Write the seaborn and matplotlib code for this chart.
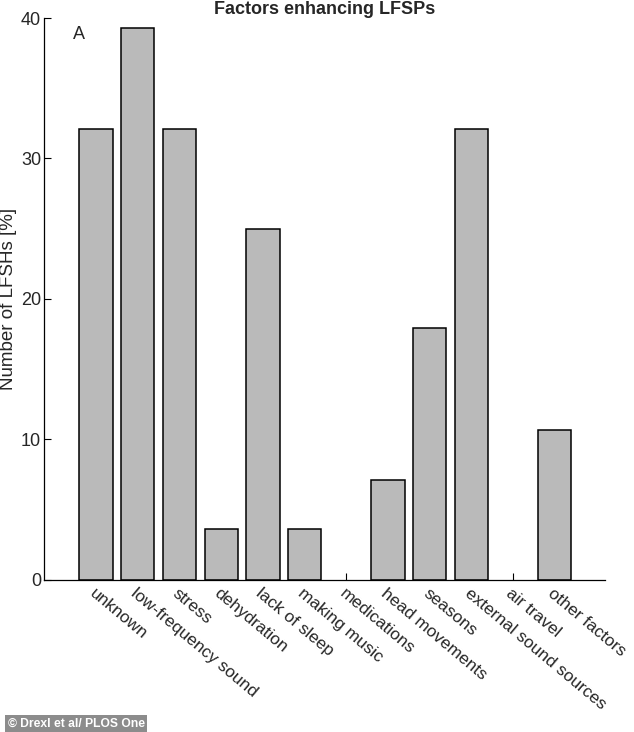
import seaborn as sns
import matplotlib.pyplot as plt
import pandas as pd

factors = ["unknown", "low-frequency sound", "stress", "dehydration",
           "lack of sleep", "making music", "medications", "head movements",
           "seasons", "external sound sources", "air travel", "other factors"]
percent = [32.1, 39.3, 32.1, 3.6, 25.0, 3.6, 0.0, 7.1, 17.9, 32.1, 0.0, 10.7]
yticks = [0, 10, 20, 30, 40]

sns.set_style("white")
plt.rcParams['font.family'] = ['Liberation Sans', 'DejaVu Sans']

df = pd.DataFrame({"factor": factors, "percent": percent})

fig = plt.figure(figsize=(6.34, 7.32), dpi=100)
ax = fig.add_axes([0.0694, 0.2077, 0.8846, 0.7677])

sns.barplot(data=df, x="factor", y="percent", color="#bababa", saturation=1,
            edgecolor="black", linewidth=1.1, width=0.8, ax=ax)
# empty categories: no outline at zero
for bar in ax.patches:
    if bar.get_height() == 0:
        bar.set_linewidth(0)

ax.set_xlim(-1.25, 12.2)
ax.set_ylim(0, 40)
ax.set_yticks(yticks)
ax.set_yticklabels([str(t) for t in yticks], fontsize=13)
ax.set_xticks(range(len(factors)))
ax.set_xticklabels(factors, fontsize=12.4, rotation=-40, ha="left", va="top",
                   rotation_mode="anchor")
ax.set_axisbelow(True)
ax.tick_params(axis="both", direction="in", length=5, width=0.8, color="black",
               bottom=True, left=True)
ax.tick_params(axis="x", pad=4)
ax.tick_params(axis="y", pad=2)
for s in ["top", "right"]:
    ax.spines[s].set_visible(False)
for s in ["left", "bottom"]:
    ax.spines[s].set_color("black")
    ax.spines[s].set_linewidth(0.9)

ax.set_xlabel("")
ax.set_ylabel("Number of LFSHs [%]", fontsize=13.5, labelpad=3)
ax.set_title("Factors enhancing LFSPs", fontsize=13, fontweight="bold", pad=3)
ax.text(-0.56, 38.8, "A", fontsize=13, va="center", ha="left")

fig.text(0.012, 0.003, "\u00a9 Drexl et al/ PLOS One", fontsize=8.7, color="white",
         fontweight="bold", ha="left", va="bottom",
         bbox=dict(boxstyle="square,pad=0.2", fc="#8c8c8c", ec="none"))

fig.savefig("out.png", dpi=100)
